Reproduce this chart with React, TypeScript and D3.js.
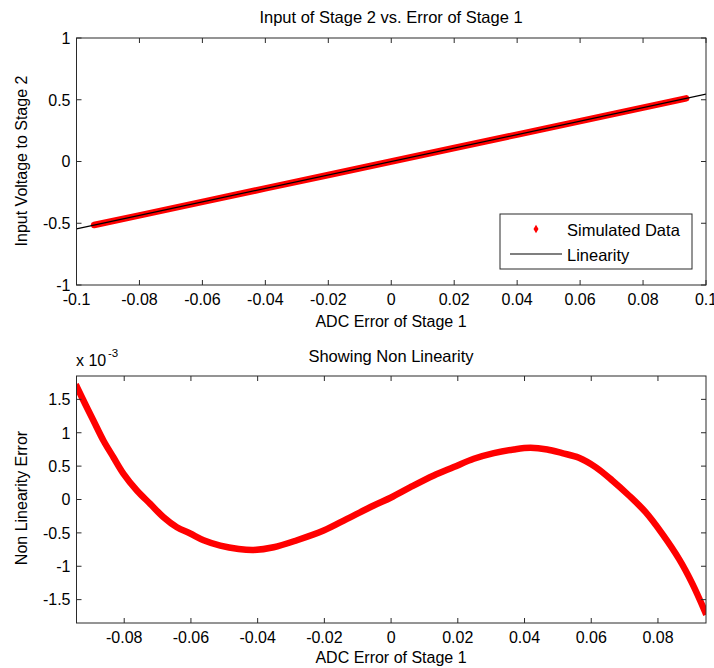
import React from "react";
import * as d3 from "d3";

// ---- Top chart data ----
const topSimX = [-0.0944, -0.08, -0.06, -0.04, -0.02, 0, 0.02, 0.04, 0.06, 0.08, 0.0937];
const topSimY = [-0.514, -0.436, -0.327, -0.218, -0.109, 0.0, 0.109, 0.218, 0.327, 0.436, 0.511];
const linX = [-0.1, 0.1];
const linY = [-0.545, 0.545];
const topXTicks = [-0.1, -0.08, -0.06, -0.04, -0.02, 0, 0.02, 0.04, 0.06, 0.08, 0.1];
const topYTicks = [-1, -0.5, 0, 0.5, 1];

// ---- Bottom chart data (values in units of 1e-3) ----
const errX = [
  -0.0941, -0.0917, -0.0892, -0.0862, -0.0832, -0.0802, -0.0762, -0.0722, -0.0682, -0.0642,
  -0.0602, -0.0562, -0.0512, -0.0457, -0.0412, -0.0352, -0.0282, -0.0202, -0.0132, -0.0052,
  0.0, 0.0058, 0.0128, 0.0188, 0.0248, 0.0308, 0.0368, 0.0418, 0.0468, 0.0513,
  0.0563, 0.0613, 0.0663, 0.0713, 0.0763, 0.0813, 0.0863, 0.0903, 0.0941,
];
const errY = [
  1.68, 1.43, 1.18, 0.88, 0.63, 0.385, 0.135, -0.065, -0.265, -0.415,
  -0.51, -0.61, -0.69, -0.74, -0.755, -0.715, -0.61, -0.465, -0.29, -0.09,
  0.03, 0.185, 0.36, 0.485, 0.61, 0.695, 0.75, 0.775, 0.75, 0.695,
  0.625, 0.485, 0.285, 0.06, -0.19, -0.515, -0.89, -1.26, -1.68,
];
const botXTicks = [-0.08, -0.06, -0.04, -0.02, 0, 0.02, 0.04, 0.06, 0.08];
const botYTicks = [-1.5, -1, -0.5, 0, 0.5, 1, 1.5];

const FONT = "'Liberation Sans', Arial, Helvetica, sans-serif";
const FS = 16;
const FT = 16.5;
const AX = "#2a2a2a";
const RED = "#ff0000";

function fmt(v: number) {
  if (v === 0) return "0";
  return String(v);
}

type AxesProps = {
  left: number; right: number; top: number; bottom: number;
  x: d3.ScaleLinear<number, number>; y: d3.ScaleLinear<number, number>;
  xTicks: number[]; yTicks: number[]; tickY: number;
};

function Axes({ left, right, top, bottom, x, y, xTicks, yTicks, tickY }: AxesProps) {
  const tl = 5;
  return (
    <g>
      <rect x={left} y={top} width={right - left} height={bottom - top} fill="none" stroke={AX} strokeWidth={1} />
      {xTicks.map((t) => (
        <g key={"x" + t}>
          <line x1={x(t)} x2={x(t)} y1={bottom} y2={bottom - tl} stroke={AX} />
          <line x1={x(t)} x2={x(t)} y1={top} y2={top + tl} stroke={AX} />
          <text x={x(t)} y={tickY} textAnchor="middle" fontSize={FS} fontFamily={FONT} fill="#000">{fmt(t)}</text>
        </g>
      ))}
      {yTicks.map((t) => (
        <g key={"y" + t}>
          <line x1={left} x2={left + tl} y1={y(t)} y2={y(t)} stroke={AX} />
          <line x1={right} x2={right - tl} y1={y(t)} y2={y(t)} stroke={AX} />
          <text x={left - 6} y={y(t)} dy="0.36em" textAnchor="end" fontSize={FS} fontFamily={FONT} fill="#000">{fmt(t)}</text>
        </g>
      ))}
    </g>
  );
}

export default function App() {
  // top chart
  const tL = 76.5, tR = 706, tT = 38, tB = 285;
  const xTop = d3.scaleLinear().domain([-0.1, 0.1]).range([tL, tR]);
  const yTop = d3.scaleLinear().domain([-1, 1]).range([tB, tT]);
  const simPts = topSimX.map((v, i) => [v, topSimY[i]] as [number, number]);
  const linPts = linX.map((v, i) => [v, linY[i]] as [number, number]);
  const lineTop = d3.line<[number, number]>().x((d) => xTop(d[0])).y((d) => yTop(d[1]));

  // bottom chart
  const bL = 76.5, bR = 706, bT = 376, bB = 623;
  const xBot = d3.scaleLinear().domain([-0.0943, 0.0944]).range([bL, bR]);
  const yBot = d3.scaleLinear().domain([-1.85, 1.85]).range([bB, bT]);
  const errPts = errX.map((v, i) => [v, errY[i]] as [number, number]);
  const lineBot = d3.line<[number, number]>().x((d) => xBot(d[0])).y((d) => yBot(d[1])).curve(d3.curveCatmullRom.alpha(0.5));

  return (
    <svg width={714} height={668} style={{ position: "absolute", left: 0, top: 0, background: "#fff" }}>
      <rect x={0} y={0} width={714} height={668} fill="#fff" />
      {/* ---------- top chart ---------- */}
      <text x={391} y={23} textAnchor="middle" fontSize={FT} fontFamily={FONT}>Input of Stage 2 vs. Error of Stage 1</text>
      <defs>
        <clipPath id="clipTop"><rect x={tL} y={tT} width={tR - tL} height={tB - tT} /></clipPath>
        <clipPath id="clipBot"><rect x={bL} y={bT} width={bR - bL} height={bB - bT} /></clipPath>
      </defs>
      <g clipPath="url(#clipTop)">
        <path d={lineTop(simPts) || ""} fill="none" stroke={RED} strokeWidth={6.5} strokeLinecap="round" />
        <path d={lineTop(linPts) || ""} fill="none" stroke="#000" strokeWidth={1.2} />
      </g>
      <Axes left={tL} right={tR} top={tT} bottom={tB} x={xTop} y={yTop} xTicks={topXTicks} yTicks={topYTicks} tickY={305} />
      <text x={391} y={327} textAnchor="middle" fontSize={FS} fontFamily={FONT}>ADC Error of Stage 1</text>
      <text transform="translate(27,161) rotate(-90)" textAnchor="middle" fontSize={FS} fontFamily={FONT}>Input Voltage to Stage 2</text>
      {/* legend */}
      <g>
        <rect x={500} y={214} width={192} height={55} fill="#fff" stroke={AX} strokeWidth={1} />
        <path d={d3.symbol().type(d3.symbolDiamond).size(22)() || ""} transform="translate(536,229)" fill={RED} />
        <text x={567} y={236} fontSize={FT} fontFamily={FONT}>Simulated Data</text>
        <line x1={510} x2={562} y1={254} y2={254} stroke="#000" strokeWidth={1.2} />
        <text x={567} y={261} fontSize={FT} fontFamily={FONT}>Linearity</text>
      </g>

      {/* ---------- bottom chart ---------- */}
      <text x={391} y={362} textAnchor="middle" fontSize={FT} fontFamily={FONT}>Showing Non Linearity</text>
      <text x={76} y={366} fontSize={FS} fontFamily={FONT}>x 10</text>
      <text x={108} y={357} fontSize={11.5} fontFamily={FONT}>-3</text>
      <g clipPath="url(#clipBot)">
        <path d={lineBot(errPts) || ""} fill="none" stroke={RED} strokeWidth={6.5} strokeLinejoin="round" strokeLinecap="square" />
      </g>
      <Axes left={bL} right={bR} top={bT} bottom={bB} x={xBot} y={yBot} xTicks={botXTicks} yTicks={botYTicks} tickY={643} />
      <text x={391} y={663} textAnchor="middle" fontSize={FS} fontFamily={FONT}>ADC Error of Stage 1</text>
      <text transform="translate(27,498) rotate(-90)" textAnchor="middle" fontSize={FS} fontFamily={FONT}>Non Linearity Error</text>
    </svg>
  );
}
